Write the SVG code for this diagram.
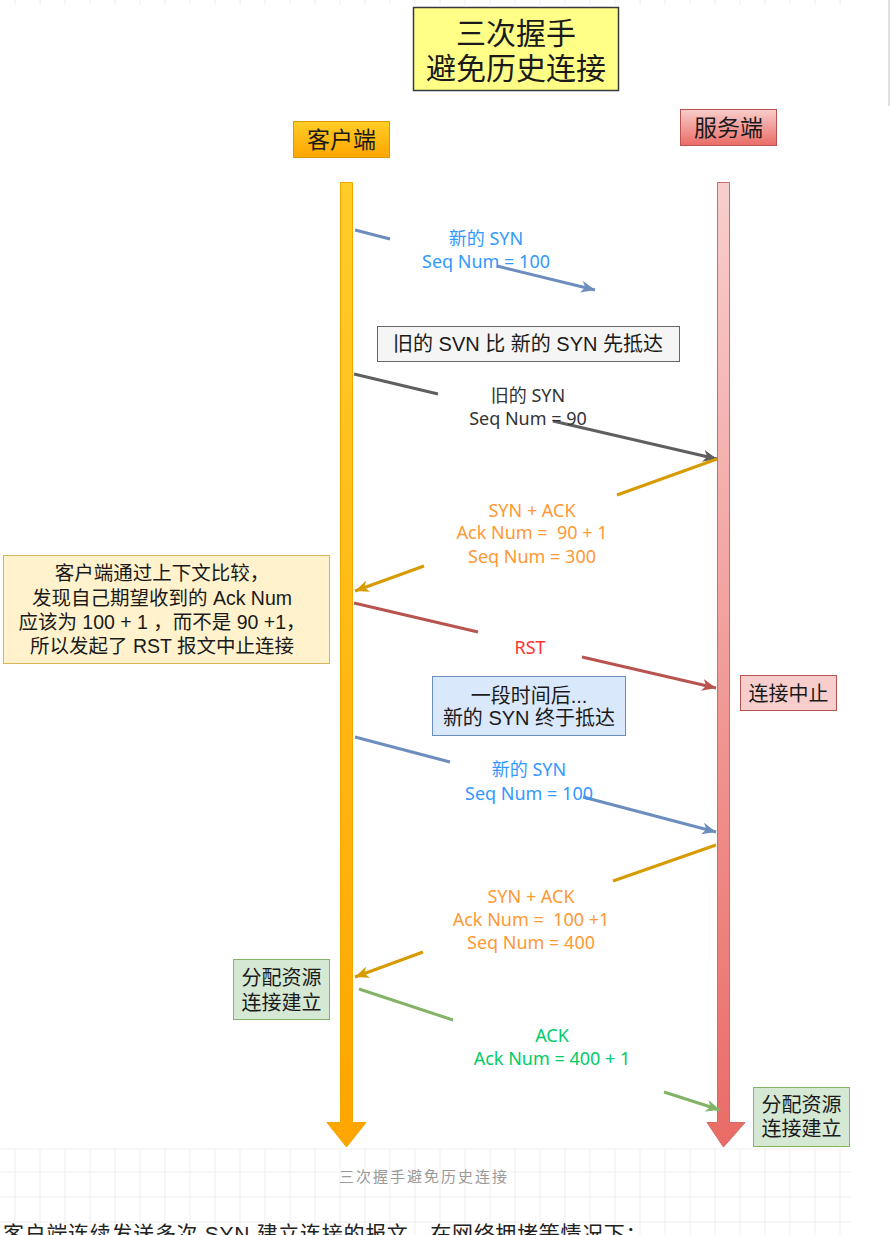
<svg xmlns="http://www.w3.org/2000/svg" width="891" height="1235" viewBox="0 0 891 1235">
  <style>
    .cn { font-family: "Liberation Sans", "Noto Sans CJK SC", sans-serif; fill: #1a1a1a; text-anchor: middle; }
    .hand { font-family: "Comic Sans MS", "Noto Sans", "Noto Sans CJK SC", sans-serif; font-size: 18px; text-anchor: middle; }
    .msg { fill: none; stroke-width: 3; stroke-linecap: butt; }
    .grid line { stroke: #efefef; stroke-width: 1; }
  </style>
  <defs>
    <linearGradient id="gClient" x1="0" y1="0" x2="0" y2="1">
      <stop offset="0" stop-color="#ffcd28"/>
      <stop offset="1" stop-color="#ffa500"/>
    </linearGradient>
    <linearGradient id="gServer" x1="0" y1="0" x2="0" y2="1">
      <stop offset="0" stop-color="#f8cecc"/>
      <stop offset="1" stop-color="#ea6b66"/>
    </linearGradient>
    <marker id="aBlue" markerUnits="userSpaceOnUse" markerWidth="16" markerHeight="12" refX="14" refY="6" orient="auto"><path d="M0,0 L14,6 L0,12 L4,6 Z" fill="#6c8ebf"/></marker>
    <marker id="aGray" markerUnits="userSpaceOnUse" markerWidth="16" markerHeight="12" refX="14" refY="6" orient="auto"><path d="M0,0 L14,6 L0,12 L4,6 Z" fill="#5f5f5f"/></marker>
    <marker id="aOrange" markerUnits="userSpaceOnUse" markerWidth="16" markerHeight="12" refX="14" refY="6" orient="auto"><path d="M0,0 L14,6 L0,12 L4,6 Z" fill="#d79b00"/></marker>
    <marker id="aRed" markerUnits="userSpaceOnUse" markerWidth="16" markerHeight="12" refX="14" refY="6" orient="auto"><path d="M0,0 L14,6 L0,12 L4,6 Z" fill="#b85450"/></marker>
    <marker id="aGreen" markerUnits="userSpaceOnUse" markerWidth="16" markerHeight="12" refX="14" refY="6" orient="auto"><path d="M0,0 L14,6 L0,12 L4,6 Z" fill="#82b366"/></marker>
  </defs>

  <rect width="891" height="1235" fill="#ffffff"/>

  <!-- page chrome: ruler ticks along the top, side rule -->
  <g id="page-ticks" stroke="#ececec" stroke-width="1">
    <line x1="15" y1="0" x2="15" y2="5"/><line x1="40" y1="0" x2="40" y2="5"/><line x1="65" y1="0" x2="65" y2="5"/><line x1="90" y1="0" x2="90" y2="5"/><line x1="115" y1="0" x2="115" y2="5"/><line x1="140" y1="0" x2="140" y2="5"/><line x1="165" y1="0" x2="165" y2="5"/><line x1="190" y1="0" x2="190" y2="5"/><line x1="215" y1="0" x2="215" y2="5"/><line x1="240" y1="0" x2="240" y2="5"/><line x1="265" y1="0" x2="265" y2="5"/><line x1="290" y1="0" x2="290" y2="5"/><line x1="315" y1="0" x2="315" y2="5"/><line x1="340" y1="0" x2="340" y2="5"/><line x1="365" y1="0" x2="365" y2="5"/><line x1="390" y1="0" x2="390" y2="5"/><line x1="415" y1="0" x2="415" y2="5"/><line x1="440" y1="0" x2="440" y2="5"/><line x1="465" y1="0" x2="465" y2="5"/><line x1="490" y1="0" x2="490" y2="5"/><line x1="515" y1="0" x2="515" y2="5"/><line x1="540" y1="0" x2="540" y2="5"/><line x1="565" y1="0" x2="565" y2="5"/><line x1="590" y1="0" x2="590" y2="5"/><line x1="615" y1="0" x2="615" y2="5"/><line x1="640" y1="0" x2="640" y2="5"/><line x1="665" y1="0" x2="665" y2="5"/><line x1="690" y1="0" x2="690" y2="5"/><line x1="715" y1="0" x2="715" y2="5"/><line x1="740" y1="0" x2="740" y2="5"/><line x1="765" y1="0" x2="765" y2="5"/><line x1="790" y1="0" x2="790" y2="5"/><line x1="815" y1="0" x2="815" y2="5"/><line x1="840" y1="0" x2="840" y2="5"/>
  </g>
  <line x1="889" y1="0" x2="889" y2="106" stroke="#d8d8d8" stroke-width="1.5"/>

  <!-- caption area grid -->
  <g class="grid">
    <line x1="0" y1="1149" x2="851" y2="1149"/><line x1="0" y1="1172" x2="851" y2="1172"/><line x1="0" y1="1197" x2="851" y2="1197"/><line x1="0" y1="1222" x2="851" y2="1222"/>
    <line x1="15" y1="1149" x2="15" y2="1235"/><line x1="40" y1="1149" x2="40" y2="1235"/><line x1="65" y1="1149" x2="65" y2="1235"/><line x1="90" y1="1149" x2="90" y2="1235"/><line x1="115" y1="1149" x2="115" y2="1235"/><line x1="140" y1="1149" x2="140" y2="1235"/><line x1="165" y1="1149" x2="165" y2="1235"/><line x1="190" y1="1149" x2="190" y2="1235"/><line x1="215" y1="1149" x2="215" y2="1235"/><line x1="240" y1="1149" x2="240" y2="1235"/><line x1="265" y1="1149" x2="265" y2="1235"/><line x1="290" y1="1149" x2="290" y2="1235"/><line x1="315" y1="1149" x2="315" y2="1235"/><line x1="340" y1="1149" x2="340" y2="1235"/><line x1="365" y1="1149" x2="365" y2="1235"/><line x1="390" y1="1149" x2="390" y2="1235"/><line x1="415" y1="1149" x2="415" y2="1235"/><line x1="440" y1="1149" x2="440" y2="1235"/><line x1="465" y1="1149" x2="465" y2="1235"/><line x1="490" y1="1149" x2="490" y2="1235"/><line x1="515" y1="1149" x2="515" y2="1235"/><line x1="540" y1="1149" x2="540" y2="1235"/><line x1="565" y1="1149" x2="565" y2="1235"/><line x1="590" y1="1149" x2="590" y2="1235"/><line x1="615" y1="1149" x2="615" y2="1235"/><line x1="640" y1="1149" x2="640" y2="1235"/><line x1="665" y1="1149" x2="665" y2="1235"/><line x1="690" y1="1149" x2="690" y2="1235"/><line x1="715" y1="1149" x2="715" y2="1235"/><line x1="740" y1="1149" x2="740" y2="1235"/><line x1="765" y1="1149" x2="765" y2="1235"/><line x1="790" y1="1149" x2="790" y2="1235"/><line x1="815" y1="1149" x2="815" y2="1235"/><line x1="840" y1="1149" x2="840" y2="1235"/>
  </g>

  <!-- title -->
  <g id="title">
    <rect x="413.5" y="7.5" width="205" height="83" fill="#ffff88" stroke="#36393d" stroke-width="1.5"/>
    <text class="cn" x="516" y="44" font-size="30">三次握手</text>
    <text class="cn" x="516" y="79" font-size="30">避免历史连接</text>
  </g>

  <!-- participants -->
  <g id="client">
    <rect x="293.5" y="121.5" width="96" height="36" fill="url(#gClient)" stroke="#d79b00"/>
    <text class="cn" x="341.5" y="148" font-size="23">客户端</text>
  </g>
  <g id="server">
    <rect x="680.5" y="109.5" width="96" height="36" fill="url(#gServer)" stroke="#b85450"/>
    <text class="cn" x="728.5" y="136" font-size="23">服务端</text>
  </g>

  <!-- lifelines -->
  <g id="client-lifeline">
    <path d="M340.5,182.5 H352.5 V1122.5 H366 L346.5,1147 L327,1122.5 H340.5 Z" fill="url(#gClient)" stroke="#f0a500" stroke-width="1"/>
  </g>
  <g id="server-lifeline">
    <path d="M717.5,182.5 H729.5 V1122.5 H745 L723.5,1147 L707,1122.5 H717.5 Z" fill="url(#gServer)" stroke="#d26b66" stroke-width="1"/>
  </g>

  <!-- messages -->
  <g id="connectors">
    <path class="msg" stroke="#6c8ebf" d="M355,230 L390,239"/>
    <path class="msg" stroke="#6c8ebf" d="M497,266 L595,290" marker-end="url(#aBlue)"/>

    <path class="msg" stroke="#5f5f5f" d="M354,374 L438,394"/>
    <path class="msg" stroke="#5f5f5f" d="M553,421 L717,459" marker-end="url(#aGray)"/>

    <path class="msg" stroke="#d79b00" d="M717,459 L617,495"/>
    <path class="msg" stroke="#d79b00" d="M424,566 L355,591" marker-end="url(#aOrange)"/>

    <path class="msg" stroke="#b85450" d="M354,603 L478,632"/>
    <path class="msg" stroke="#b85450" d="M582,657 L716,688" marker-end="url(#aRed)"/>

    <path class="msg" stroke="#6c8ebf" d="M355,737 L450,762"/>
    <path class="msg" stroke="#6c8ebf" d="M583,797 L716,832" marker-end="url(#aBlue)"/>

    <path class="msg" stroke="#d79b00" d="M716,845 L613,881"/>
    <path class="msg" stroke="#d79b00" d="M423,952 L355,977" marker-end="url(#aOrange)"/>

    <path class="msg" stroke="#82b366" d="M359,989 L453,1020"/>
    <path class="msg" stroke="#82b366" d="M664,1092 L720,1110" marker-end="url(#aGreen)"/>
  </g>

  <!-- message labels -->
  <g id="label-new-syn-1" class="hand" fill="#3399ff">
    <text x="486" y="245">新的 SYN</text>
    <text x="486" y="268">Seq Num = 100</text>
  </g>
  <g id="label-old-syn" class="hand" fill="#333333">
    <text x="528" y="402">旧的 SYN</text>
    <text x="528" y="425">Seq Num = 90</text>
  </g>
  <g id="label-synack-1" class="hand" fill="#ff9933">
    <text x="532" y="517">SYN + ACK</text>
    <text x="532" y="539" xml:space="preserve">Ack Num =  90 + 1</text>
    <text x="532" y="563">Seq Num = 300</text>
  </g>
  <g id="label-rst" class="hand" fill="#ff3333">
    <text x="530" y="654">RST</text>
  </g>
  <g id="label-new-syn-2" class="hand" fill="#3399ff">
    <text x="529" y="776">新的 SYN</text>
    <text x="529" y="800">Seq Num = 100</text>
  </g>
  <g id="label-synack-2" class="hand" fill="#ff9933">
    <text x="531" y="903">SYN + ACK</text>
    <text x="531" y="926" xml:space="preserve">Ack Num =  100 +1</text>
    <text x="531" y="949">Seq Num = 400</text>
  </g>
  <g id="label-ack" class="hand" fill="#00cc66">
    <text x="552" y="1042">ACK</text>
    <text x="552" y="1065">Ack Num = 400 + 1</text>
  </g>

  <!-- notes -->
  <g id="note-old-first">
    <rect x="377.5" y="326.5" width="302" height="35" fill="#f5f5f5" stroke="#666666"/>
    <text class="cn" x="528" y="351" font-size="20" fill="#333333">旧的 SVN 比 新的 SYN 先抵达</text>
  </g>
  <g id="note-client-check">
    <rect x="3.5" y="555.5" width="326" height="108" fill="#fff2cc" stroke="#d6b656"/>
    <text class="cn" x="162" y="580" font-size="19.5">客户端通过上下文比较，</text>
    <text class="cn" x="162" y="605" font-size="19.5">发现自己期望收到的 Ack Num</text>
    <text class="cn" x="162" y="629" font-size="19.5">应该为 100 + 1 ，而不是 90 +1，</text>
    <text class="cn" x="162" y="653" font-size="19.5">所以发起了 RST 报文中止连接</text>
  </g>
  <g id="note-abort">
    <rect x="740.5" y="675.5" width="96" height="35" fill="#f8cecc" stroke="#b85450"/>
    <text class="cn" x="788.5" y="701" font-size="20">连接中止</text>
  </g>
  <g id="note-later">
    <rect x="432.5" y="676.5" width="193" height="59" fill="#dae8fc" stroke="#6c8ebf"/>
    <text class="cn" x="529" y="703" font-size="20">一段时间后...</text>
    <text class="cn" x="529" y="725" font-size="20">新的 SYN 终于抵达</text>
  </g>
  <g id="note-client-established">
    <rect x="233.5" y="959.5" width="96" height="60" fill="#d5e8d4" stroke="#82b366"/>
    <text class="cn" x="281.5" y="985" font-size="20">分配资源</text>
    <text class="cn" x="281.5" y="1010" font-size="20">连接建立</text>
  </g>
  <g id="note-server-established">
    <rect x="753.5" y="1087.5" width="96" height="59" fill="#d5e8d4" stroke="#82b366"/>
    <text class="cn" x="801.5" y="1112" font-size="20">分配资源</text>
    <text class="cn" x="801.5" y="1136" font-size="20">连接建立</text>
  </g>

  <!-- caption and following paragraph -->
  <text x="339" y="1182" font-family="Liberation Sans, Noto Sans CJK SC, sans-serif" font-size="15" letter-spacing="2" fill="#999999">三次握手避免历史连接</text>
  <text x="3" y="1241" font-family="Liberation Sans, Noto Sans CJK SC, sans-serif" font-size="21" letter-spacing="0.7" fill="#222222">客户端连续发送多次 SYN 建立连接的报文，在网络拥堵等情况下：</text>
</svg>
